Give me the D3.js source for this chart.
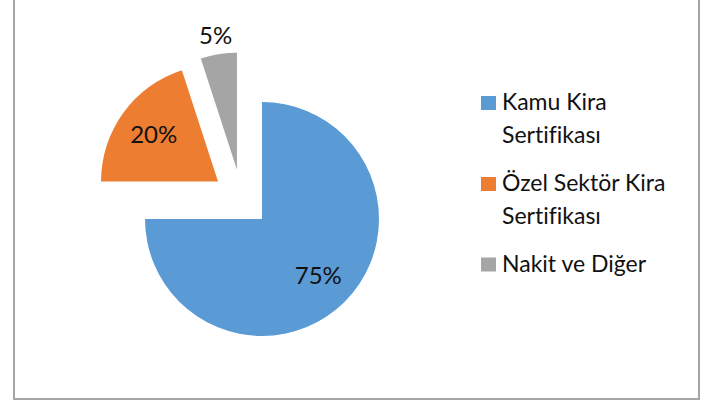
<!DOCTYPE html>
<html>
<head>
    <meta charset="utf-8">
    <title>Kira Sertifikası Dağılımı</title>
    <script src="https://d3js.org/d3.v7.min.js"></script>
    <style>
        body {
            margin: 0;
            background: #fff;
            font-family: Lato, "Open Sans", sans-serif;
            font-variant-ligatures: none;
        }

        .frame {
            fill: #fff;
            stroke: #a6a6a6;
            stroke-width: 2;
        }

        .slice-label {
            font-size: 24px;
            fill: #111;
        }

        .legend text {
            font-size: 23px;
            fill: #111;
        }
    </style>
</head>
<body>
    <div id="chart"></div>

    <script>
        // Chart data
        const categories = ["Kamu Kira Sertifikası", "Özel Sektör Kira Sertifikası", "Nakit ve Diğer"];
        const legendLines = [["Kamu Kira", "Sertifikası"], ["Özel Sektör Kira", "Sertifikası"], ["Nakit ve Diğer"]];
        const shares = [75, 20, 5];
        const colors = ["#5b9bd5", "#ed7d31", "#a5a5a5"];

        const width = 705;
        const height = 403;
        const radius = 117;
        const explode = 29;
        const cx = 241.5, cy = 198.5;

        const svg = d3.select("#chart")
            .append("svg")
            .attr("width", width)
            .attr("height", height);

        // chart border
        svg.append("rect")
            .attr("class", "frame")
            .attr("x", 14)
            .attr("y", -1)
            .attr("width", 685)
            .attr("height", 400);

        const data = categories.map((c, i) => ({ name: c, value: shares[i], color: colors[i] }));

        const pie = d3.pie()
            .sort(null)
            .value(d => d.value);

        const arc = d3.arc()
            .innerRadius(0)
            .outerRadius(radius);

        const g = svg.append("g")
            .attr("transform", `translate(${cx},${cy})`);

        const arcs = pie(data);

        // every slice pushed out along its middle angle
        const shift = d => {
            const a = (d.startAngle + d.endAngle) / 2;
            return [Math.sin(a) * explode, -Math.cos(a) * explode];
        };

        const slices = g.selectAll(".slice")
            .data(arcs)
            .enter()
            .append("g")
            .attr("class", "slice")
            .attr("transform", d => `translate(${shift(d)})`);

        slices.append("path")
            .attr("d", arc)
            .attr("fill", d => d.data.color);

        // labels inside, small slices outside
        slices.append("text")
            .attr("class", "slice-label")
            .attr("text-anchor", "middle")
            .attr("dy", "0.35em")
            .attr("transform", d => {
                const a = (d.startAngle + d.endAngle) / 2;
                const r = d.data.value < 10 ? radius + 19 : radius * 0.68;
                return `translate(${Math.sin(a) * r},${-Math.cos(a) * r})`;
            })
            .text(d => d.data.value + "%");

        // legend
        const legendTop = [110, 191, 271.5];
        const legend = svg.append("g")
            .attr("class", "legend");

        const item = legend.selectAll("g")
            .data(data)
            .enter()
            .append("g")
            .attr("transform", (d, i) => `translate(481,${legendTop[i]})`);

        item.append("rect")
            .attr("y", -14)
            .attr("width", 15)
            .attr("height", 14)
            .attr("fill", d => d.color);

        item.append("text")
            .attr("x", 21)
            .selectAll("tspan")
            .data((d, i) => legendLines[i])
            .enter()
            .append("tspan")
            .attr("x", 21)
            .attr("y", (d, j) => j * 32.5)
            .text(d => d);
    </script>
</body>
</html>
